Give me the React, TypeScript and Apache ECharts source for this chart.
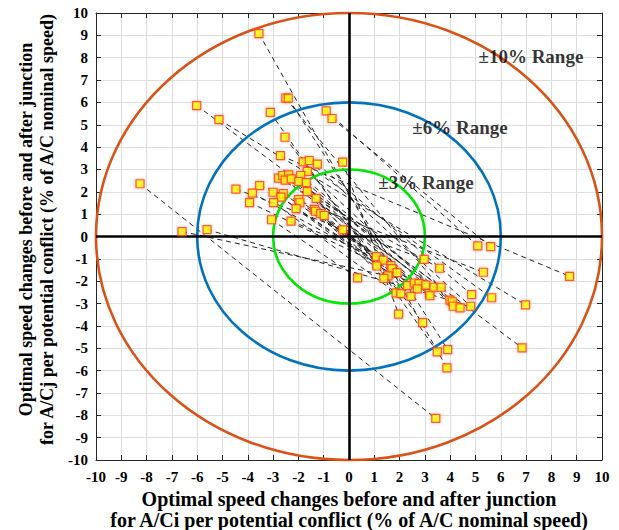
import React, { useEffect, useRef } from "react";
import * as echarts from "echarts";

// Points in the upper-left region (A/Ci, A/Cj speed changes)
const ulX = [-3.56, -2.5, -2.4, -6.02, -5.14, -3.11, -0.9, -0.67, -2.53, -2.71, -0.25, -1.81, -1.57, -1.25, -1.65, -1.91, -2.78, -2.62, -2.38, -2.52, -2.28, -1.98, -1.69, -3.53, -4.47, -3.82, -3.0, -2.6, -1.65, -2.69, -1.3, -3.93, -2.98, -1.99, -1.94, -2.09, -1.37, -1.32, -1.12, -0.98, -3.06, -2.29, -0.25, -8.26, -6.6, -5.61];
const ulY = [9.08, 6.19, 6.19, 5.86, 5.23, 5.55, 5.62, 5.28, 4.44, 3.62, 3.33, 3.34, 3.4, 3.24, 2.91, 2.73, 2.61, 2.73, 2.76, 2.52, 2.58, 2.46, 2.41, 2.28, 2.12, 1.94, 1.98, 1.92, 2.01, 1.76, 1.71, 1.52, 1.52, 1.65, 1.51, 1.25, 1.21, 1.13, 1.02, 0.94, 0.75, 0.69, 0.3, 2.36, 0.22, 0.31];
// Points in the lower-right region
const lrX = [5.09, 5.6, 8.72, 5.31, 3.58, 2.97, 6.98, 5.64, 4.85, 4.81, 6.84, 3.99, 4.08, 4.12, 4.39, 2.91, 1.96, 3.9, 3.49, 3.87, 3.43, 0.34, 1.08, 1.35, 1.1, 1.66, 1.7, 1.9, 1.54, 1.38, 1.86, 2.05, 2.32, 2.58, 2.77, 2.7, 2.45, 3.04, 3.18, 3.2, 3.36, 3.64];
const lrY = [-0.42, -0.45, -1.78, -1.6, -1.42, -1.02, -3.06, -2.74, -2.6, -3.12, -4.98, -2.85, -2.92, -3.12, -3.19, -3.85, -3.47, -5.06, -5.16, -5.88, -8.14, -1.85, -0.9, -1.06, -1.32, -1.3, -1.44, -1.62, -1.76, -1.87, -2.52, -2.56, -2.2, -2.08, -2.11, -2.34, -2.68, -2.17, -2.55, -2.65, -2.27, -2.27];
// For each upper-left point, index of the lower-right point it is linked to
const linkTo = [19, 11, 17, 10, 6, 18, 0, 1, 15, 2, 16, 7, 9, 8, 13, 14, 4, 12, 41, 40, 39, 38, 37, 3, 5, 34, 35, 33, 36, 32, 31, 27, 30, 26, 25, 28, 29, 23, 24, 22, 21, 22, 23, 20, 41, 9];

const ranges = [3, 6, 10];
const rangeColors = ["#00e600", "#0072bd", "#d95319"];
const rangeLabels = ["±3% Range", "±6% Range", "±10% Range"];
const rangeLabelX = [3.04, 4.39, 7.19];
const rangeLabelY = [2.42, 4.88, 8.05];

const xTitle = "Optimal speed changes before and after junction\nfor A/Ci per potential conflict (% of A/C nominal speed)";
const yTitle = "Optimal speed changes before and after junction\nfor A/Cj per potential conflict (% of A/C nominal speed)";

const FONT = "Liberation Serif";

export default function App() {
  const ref = useRef<HTMLDivElement>(null);
  useEffect(() => {
    document.body.style.margin = "0";
    if (!ref.current) return;
    const chart = echarts.init(ref.current, null, { renderer: "svg" });

    const linesData = ulX.map((x, i) => ({
      coords: [
        [x, ulY[i]],
        [lrX[linkTo[i]], lrY[linkTo[i]]],
      ],
    }));
    const pts: number[][] = [];
    ulX.forEach((x, i) => pts.push([x, ulY[i]]));
    lrX.forEach((x, i) => pts.push([x, lrY[i]]));

    const tickLabel = { fontFamily: FONT, fontWeight: "bold" as const, fontSize: 15, color: "#000" };
    const boxLine = { show: true, lineStyle: { color: "#262626", width: 1 } };
    const tick = { show: true, inside: true, length: 5, lineStyle: { color: "#262626" } };
    const split = { show: true, lineStyle: { color: "#dedede", width: 1 } };

    chart.setOption({
      animation: false,
      backgroundColor: "#ffffff",
      grid: { left: 96, top: 13, width: 506, height: 447, containLabel: false, outerBoundsMode: "none" },
      xAxis: [
        {
          type: "value", min: -10, max: 10, interval: 1, position: "bottom",
          axisLine: { ...boxLine, onZero: false }, axisTick: tick, splitLine: split,
          axisLabel: { ...tickLabel, margin: 9 },
          name: xTitle, nameLocation: "middle", nameGap: 22,
          nameTextStyle: { fontFamily: FONT, fontWeight: "bold", fontSize: 20, lineHeight: 21, color: "#000" },
        },
        {
          type: "value", min: -10, max: 10, interval: 1, position: "top",
          axisLine: { ...boxLine, onZero: false }, axisTick: tick, splitLine: { show: false }, axisLabel: { show: false },
        },
      ],
      yAxis: [
        {
          type: "value", min: -10, max: 10, interval: 1, position: "left",
          axisLine: { ...boxLine, onZero: false }, axisTick: tick, splitLine: split,
          axisLabel: { ...tickLabel, margin: 8 },
          name: yTitle, nameLocation: "middle", nameGap: 23, nameRotate: 90,
          nameTextStyle: {
            fontFamily: FONT, fontWeight: "bold", fontSize: 18, lineHeight: 21, color: "#000",
            padding: [0, 0, 0, 14],
          },
        },
        {
          type: "value", min: -10, max: 10, interval: 1, position: "right",
          axisLine: { ...boxLine, onZero: false }, axisTick: tick, splitLine: { show: false }, axisLabel: { show: false },
        },
      ],
      series: [
        {
          type: "lines",
          coordinateSystem: "cartesian2d",
          xAxisIndex: 0, yAxisIndex: 0,
          data: linesData,
          symbol: ["none", "none"],
          lineStyle: { color: "#222", width: 1, type: [5, 4], opacity: 1 },
          z: 3,
          silent: true,
        },
        {
          type: "custom",
          coordinateSystem: "cartesian2d",
          xAxisIndex: 0, yAxisIndex: 0,
          data: ranges.map((r) => [0, 0, r]),
          encode: { x: 0, y: 1 },
          z: 4,
          silent: true,
          renderItem: (params: any, api: any) => {
            const r = api.value(2);
            const c = api.coord([0, 0]);
            const px = api.coord([r, 0]);
            const py = api.coord([0, r]);
            return {
              type: "ellipse",
              shape: { cx: c[0], cy: c[1], rx: px[0] - c[0], ry: c[1] - py[1] },
              style: { fill: "none", stroke: rangeColors[params.dataIndex], lineWidth: 2.6 },
            };
          },
        },
        {
          type: "scatter",
          xAxisIndex: 0, yAxisIndex: 0,
          data: pts,
          symbol: "rect",
          symbolSize: 8,
          z: 6,
          itemStyle: {
            color: "#ffff00", borderColor: "#ff3a1a", borderWidth: 1.2,
            shadowBlur: 3, shadowColor: "rgba(255,90,70,0.6)",
          },
          markLine: {
            silent: true,
            symbol: ["none", "none"],
            label: { show: false },
            lineStyle: { color: "#000", width: 2.6, type: "solid" },
            data: [{ xAxis: 0 }, { yAxis: 0 }],
            z: 5,
          },
        },
        {
          type: "scatter",
          xAxisIndex: 0, yAxisIndex: 0,
          data: rangeLabels.map((t, i) => ({ value: [rangeLabelX[i], rangeLabelY[i]], name: t })),
          symbolSize: 0,
          z: 7,
          silent: true,
          label: {
            show: true, position: "inside", formatter: (p: any) => p.name,
            fontFamily: FONT, fontWeight: "bold", fontSize: 19, color: "#000",
          },
        },
      ],
    });
    return () => chart.dispose();
  }, []);
  return <div ref={ref} style={{ width: 619, height: 530 }} />;
}
